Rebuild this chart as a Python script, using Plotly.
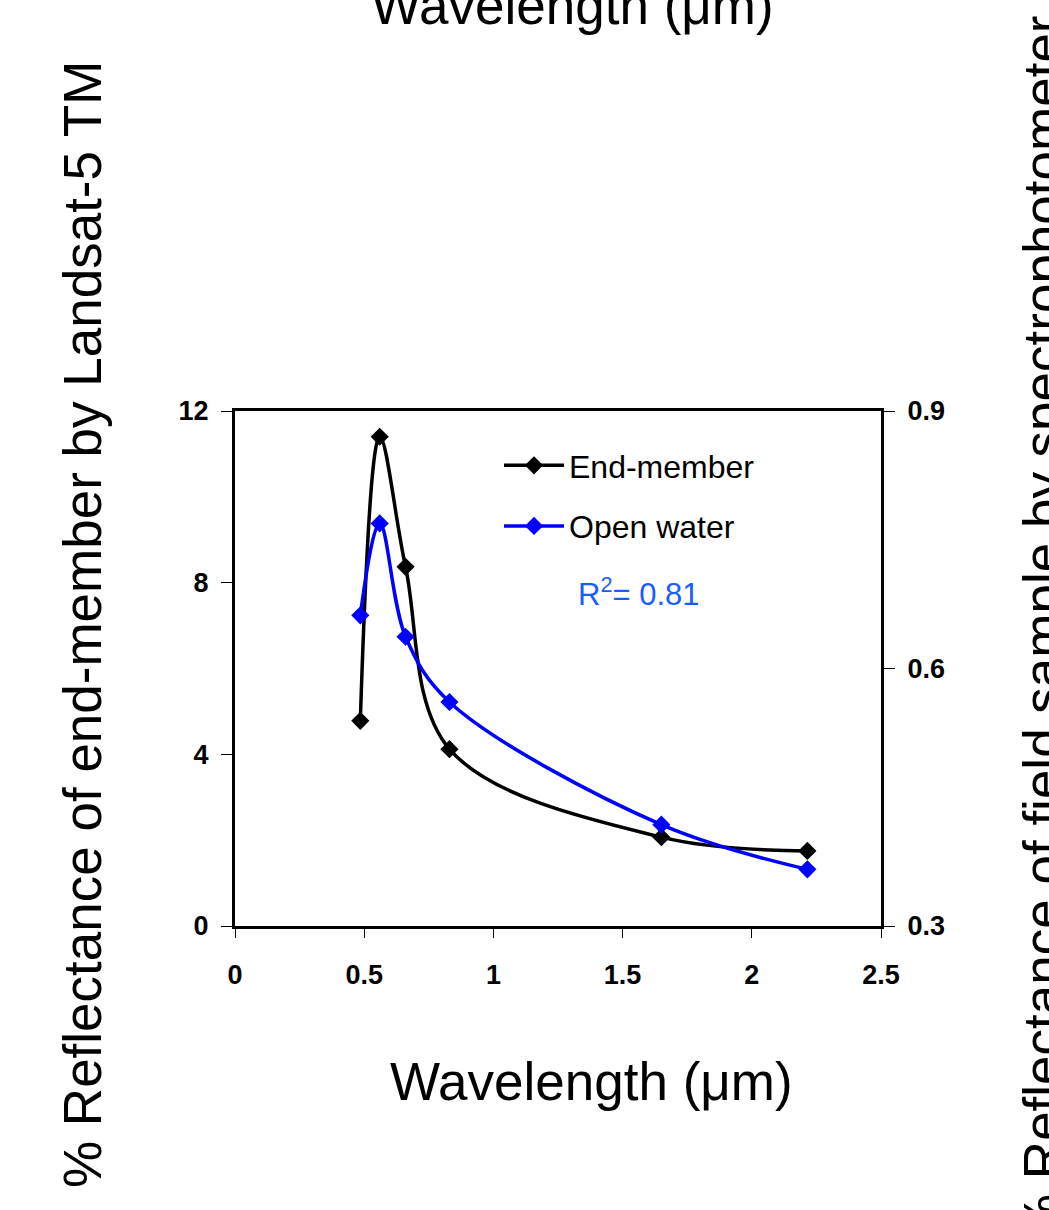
import plotly.graph_objects as go

W, H = 1049, 1210

# Landsat-5 TM band centres (micrometres)
wavelength = [0.485, 0.56, 0.66, 0.83, 1.65, 2.215]
# % reflectance of end-member by Landsat-5 TM (left axis)
end_member = [4.78, 11.4, 8.37, 4.12, 2.07, 1.75]
# reflectance of field sample by spectrophotometer (right axis)
open_water = [0.662, 0.769, 0.637, 0.561, 0.418, 0.366]

x_ticks = [0, 0.5, 1, 1.5, 2, 2.5]
x_tick_labels = ["0", "0.5", "1", "1.5", "2", "2.5"]
y_left_ticks = [0, 4, 8, 12]
y_right_ticks = [0.3, 0.6, 0.9]

x_title = "Wavelength (\u03bcm)"
y_left_title = "% Reflectance of end-member by Landsat-5 TM"
y_right_title = "% Reflectance of field sample by spectrophotometer"
r2_text = "R<sup>2</sup>= 0.81"

FONT = "Liberation Sans, Arial, sans-serif"

def px_x(p):
    return p / W

def px_y(p):
    return 1 - p / H

fig = go.Figure()
fig.add_trace(go.Scatter(
    x=wavelength, y=end_member, name="End-member",
    mode="lines+markers", line=dict(color="#000000", width=3.5, shape="spline", smoothing=1),
    marker=dict(symbol="diamond", size=14, color="#000000"),
    legendgroup="a", yaxis="y"))
fig.add_trace(go.Scatter(
    x=wavelength, y=open_water, name="Open water",
    mode="lines+markers", line=dict(color="#0000FF", width=3.5, shape="spline", smoothing=1),
    marker=dict(symbol="diamond", size=14, color="#0000FF"),
    legendgroup="b", yaxis="y2"))

tickfont = dict(family=FONT, size=27, color="#000000", weight="bold")

fig.update_layout(
    width=W, height=H,
    margin=dict(l=0, r=0, t=0, b=0, autoexpand=False),
    paper_bgcolor="white", plot_bgcolor="white",
    showlegend=True,
    legend=dict(x=px_x(499), y=px_y(438), xanchor="left", yanchor="top",
                font=dict(family=FONT, size=32, color="#000000"),
                bgcolor="rgba(0,0,0,0)", itemwidth=60, tracegroupgap=16,
                traceorder="grouped"),
    xaxis=dict(domain=[px_x(235), px_x(881)], range=[0, 2.5],
               tickvals=x_ticks, ticktext=x_tick_labels, automargin=False,
               ticks="outside", ticklen=9, tickwidth=1, tickcolor="#000000",
               showline=True, linecolor="#000000", linewidth=3, mirror=True,
               showgrid=False, zeroline=False, tickfont=tickfont, ticklabelstandoff=14),
    yaxis=dict(domain=[px_y(926), px_y(411)], range=[0, 12],
               tickvals=y_left_ticks, automargin=False,
               ticks="outside", ticklen=11, tickwidth=1, tickcolor="#000000",
               showline=True, linecolor="#000000", linewidth=3, mirror=True,
               showgrid=False, zeroline=False, tickfont=tickfont, ticklabelstandoff=7),
    yaxis2=dict(overlaying="y", side="right", range=[0.3, 0.9],
                tickvals=y_right_ticks, tickformat=".1f", automargin=False,
                ticks="outside", ticklen=11, tickwidth=1, tickcolor="#000000",
                showline=True, linecolor="#000000", linewidth=3,
                showgrid=False, zeroline=False, tickfont=tickfont, ticklabelstandoff=7),
)

big = dict(family=FONT, size=53, color="#000000")
annotations = [
    dict(text=x_title, x=px_x(572), y=px_y(6), xref="paper", yref="paper",
         xanchor="center", yanchor="middle", showarrow=False, font=big),
    dict(text=x_title, x=px_x(591), y=px_y(1081), xref="paper", yref="paper",
         xanchor="center", yanchor="middle", showarrow=False, font=big),
    dict(text=y_left_title, x=px_x(83), y=px_y(625), xref="paper", yref="paper",
         xanchor="center", yanchor="middle", showarrow=False, font=big, textangle=-90),
    dict(text=y_right_title, x=px_x(1042), y=px_y(628), xref="paper", yref="paper",
         xanchor="center", yanchor="middle", showarrow=False, font=big, textangle=-90),
    dict(text=r2_text, x=px_x(639), y=px_y(592), xref="paper", yref="paper",
         xanchor="center", yanchor="middle", showarrow=False,
         font=dict(family=FONT, size=31, color="#1A5CFF")),
]
fig.update_layout(annotations=annotations)

fig.write_html("out.html")
